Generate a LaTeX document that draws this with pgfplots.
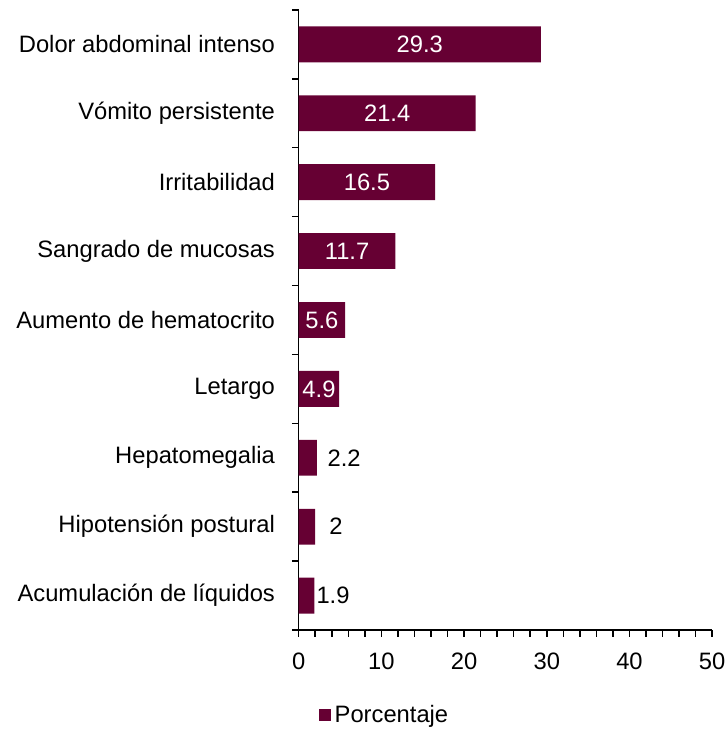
\documentclass[border=0pt]{standalone}
\usepackage{pgfplots}
\pgfplotsset{compat=1.18}
\usepackage{fontspec}
\setmainfont{Liberation Sans}
\definecolor{barmaroon}{HTML}{660033}

\begin{document}
\begin{tikzpicture}
\begin{axis}[
    scale only axis,
    width=209pt, height=313.5pt,
    xmin=0, xmax=50,
    ymin=-0.5, ymax=8.5,
    axis lines=left,
    axis line style={-, line width=0.8pt},
    tick align=outside,
    tick style={black, line width=0.8pt},
    xtick={0,10,...,50},
    minor x tick num=4,
    major tick length=3.5pt,
    minor tick length=3.5pt,
    ytick={0,...,8},
    yticklabels={Acumulación de líquidos, Hipotensión postural, Hepatomegalia, Letargo, Aumento de hematocrito, Sangrado de mucosas, Irritabilidad, Vómito persistente, Dolor abdominal intenso},
    major y tick style={draw=none},
    minor ytick={-0.5,0.5,...,8.5},
    /pgf/number format/assume math mode=true,
    tick label style={font=\fontsize{12}{14}\selectfont},
    yticklabel style={xshift=-5pt},
    xticklabel style={inner sep=0pt, yshift=-8pt},
    legend style={at={(0.21,-0.137)}, anchor=center, draw=none, fill=none,
        font=\fontsize{12}{14}\selectfont},
    legend image code/.code={\fill[barmaroon] (0pt,-3pt) rectangle (6pt,3pt);},
    clip=false,
]
\addplot[xbar, bar width=0.52, bar shift=0pt, fill=barmaroon, draw=none]
    coordinates {(1.9,0) (2,1) (2.2,2) (4.9,3) (5.6,4) (11.7,5) (16.5,6) (21.4,7) (29.3,8)};
\addlegendentry{Porcentaje}
% labels inside the bars
\addplot[only marks, mark=none, nodes near coords, point meta=explicit symbolic,
    nodes near coords align=center,
    every node near coord/.append style={text=white, font=\fontsize{12}{14}\selectfont}]
    coordinates {(2.45,3)[4.9] (2.8,4)[5.6] (5.85,5)[11.7] (8.25,6)[16.5] (10.7,7)[21.4] (14.65,8)[29.3]};
% labels beside the small bars
\addplot[only marks, mark=none, nodes near coords, point meta=explicit symbolic,
    nodes near coords align=center,
    every node near coord/.append style={text=black, font=\fontsize{12}{14}\selectfont}]
    coordinates {(4.15,0)[1.9] (4.5,1)[2] (5.5,2)[2.2]};
\end{axis}
\path (current axis.south west) ++(-151pt,-46.5pt) rectangle ++(366.5pt,365pt);
\end{tikzpicture}
\end{document}
